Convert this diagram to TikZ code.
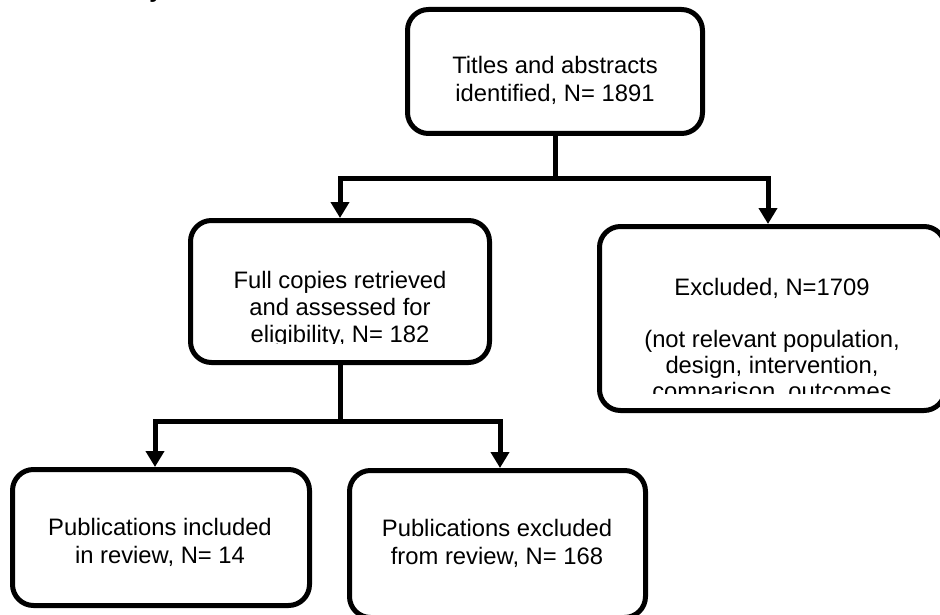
\documentclass[tikz,border=0pt]{standalone}
\usepackage{fontspec}
\setmainfont{Liberation Sans}
\usetikzlibrary{arrows.meta}
\begin{document}
\begin{tikzpicture}[x=1pt,y=-1pt,
  box/.style={draw, line width=5pt, rounded corners=21pt, inner sep=0pt},
  txt/.style={anchor=base, inner sep=0pt, font=\fontsize{23.8}{27.5}\selectfont},
  conn/.style={line width=5pt, line join=miter},
  arr/.style={conn, -{Triangle[width=18pt,length=16pt]}}]
\useasboundingbox (0,0) rectangle (940,615);

% cut-off fragment at the top edge
\begin{scope}
\clip (140,0) rectangle (170,3);
\node[txt, font=\bfseries\fontsize{23.8}{27.5}\selectfont] (frag) at (156,-2) {y};
\end{scope}

% boxes
\node[box, minimum width=295pt, minimum height=124pt] (top) at (555,71.5) {};
\node[txt] (top1) at (555,74) {Titles and abstracts};
\node[txt] (top2) at (555,102) {identified, N= 1891};

\node[box, minimum width=299pt, minimum height=142pt] (mid) at (340,291.5) {};
\node[txt] (mid1) at (340,288) {Full copies retrieved};
\node[txt] (mid2) at (340,315) {and assessed for};
\begin{scope}
\clip (190,300) rectangle (490,343);
\node[txt] (mid3) at (340,342) {eligibility, N= 182};
\end{scope}

\node[box, minimum width=345.5pt, minimum height=184pt] (excl) at (772.25,318.5) {};
\node[txt] (ex1) at (772,295) {Excluded, N=1709};
\node[txt] (ex2) at (772,347) {(not relevant population,};
\node[txt] (ex3) at (772,373) {design, intervention,};
\begin{scope}
\clip (600,380) rectangle (940,393);
\node[txt] (ex4) at (772,399) {comparison, outcomes};
\end{scope}

\node[box, minimum width=297pt, minimum height=136pt] (bl) at (161,537.5) {};
\node[txt] (bl1) at (160,535) {Publications included};
\node[txt] (bl2) at (160,563) {in review, N= 14};

\node[box, minimum width=296pt, minimum height=147pt] (br) at (497.5,544) {};
\node[txt] (br1) at (497,536.5) {Publications excluded};
\node[txt] (br2) at (497,564) {from review, N= 168};

% connectors
\coordinate (j1) at (555,179);
\coordinate (a1) at (340,179);
\coordinate (a2) at (768,179);
\draw[conn] (top.south) -- (j1);
\draw[arr] (j1) -- (a1) -- (a1 |- mid.north);
\draw[arr] (j1) -- (a2) -- (a2 |- excl.north);

\coordinate (j2) at (340,421);
\coordinate (b1) at (155,421);
\coordinate (b2) at (500,421);
\draw[conn] (mid.south) -- (j2);
\draw[arr] (j2) -- (b1) -- (b1 |- bl.north);
\draw[arr] (j2) -- (b2) -- (b2 |- br.north);
\end{tikzpicture}
\end{document}
